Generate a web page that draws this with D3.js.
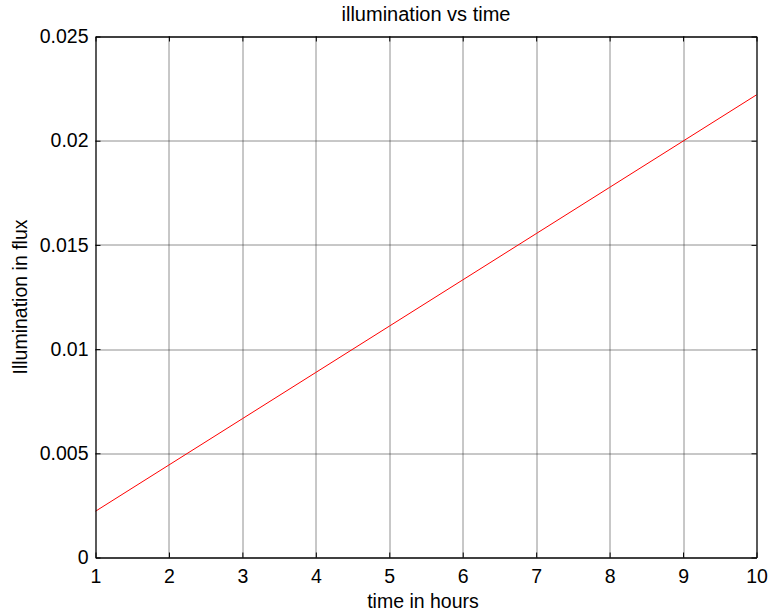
<!DOCTYPE html>
<meta charset="utf-8">
<script src="https://d3js.org/d3.v7.min.js"></script>
<style>
  body { margin: 0; background: #fff; }
  svg text { font-family: "Liberation Sans", Arial, sans-serif; fill: #000; }
</style>
<div id="chart"></div>
<script>
  // data
  var hours = [1, 2, 3, 4, 5, 6, 7, 8, 9, 10];
  var illumination = [0.00222, 0.00444, 0.00666, 0.00888, 0.0111, 0.01332, 0.01554, 0.01776, 0.01998, 0.0222];
  var xTicks = [1, 2, 3, 4, 5, 6, 7, 8, 9, 10];
  var yTicks = [0, 0.005, 0.01, 0.015, 0.02, 0.025];
  var yTickLabels = ["0", "0.005", "0.01", "0.015", "0.02", "0.025"];

  var W = 771, H = 615;
  var margin = { top: 36.5, right: 14.5, bottom: 57.5, left: 95.5 },
    width = W - margin.left - margin.right,
    height = H - margin.top - margin.bottom;
  var fontSize = "19.5px";

  var svg = d3.select("#chart").append("svg")
    .attr("width", W)
    .attr("height", H);

  var g = svg.append("g")
    .attr("transform", "translate(" + margin.left + "," + margin.top + ")");

  var x = d3.scaleLinear().domain([1, 10]).range([0, width]);
  var y = d3.scaleLinear().domain([0, 0.025]).range([height, 0]);

  // dotted grid
  g.append("g").selectAll("line")
    .data(xTicks.slice(1, -1))
    .enter().append("line")
    .attr("x1", d => Math.round(x(d)) + 0.5).attr("x2", d => Math.round(x(d)) + 0.5)
    .attr("y1", 0).attr("y2", height)
    .style("stroke", "#222").style("stroke-dasharray", "1,1");

  g.append("g").selectAll("line")
    .data(yTicks.slice(1, -1))
    .enter().append("line")
    .attr("y1", d => Math.round(y(d)) + 0.5).attr("y2", d => Math.round(y(d)) + 0.5)
    .attr("x1", 0).attr("x2", width)
    .style("stroke", "#222").style("stroke-dasharray", "1,1");

  // the line
  var line = d3.line()
    .x(function (d, i) { return x(hours[i]); })
    .y(function (d) { return y(d); });

  g.append("path")
    .datum(illumination)
    .attr("d", line)
    .style("fill", "none")
    .style("stroke", "#ff0000")
    .style("stroke-width", 1);

  // axes, MATLAB style: ticks point inward, box on all sides
  var tick = 5;
  g.append("g")
    .attr("transform", "translate(0," + height + ")")
    .call(d3.axisBottom(x).tickValues(xTicks).tickSizeInner(-tick).tickSizeOuter(0).tickPadding(12))
    .call(a => a.selectAll("text").style("font-size", fontSize));

  g.append("g")
    .call(d3.axisTop(x).tickValues(xTicks).tickSizeInner(-tick).tickSizeOuter(0).tickFormat(""));

  g.append("g")
    .call(d3.axisLeft(y).tickValues(yTicks).tickSizeInner(-tick).tickSizeOuter(0).tickPadding(7)
      .tickFormat(function (d, i) { return yTickLabels[i]; }))
    .call(a => a.selectAll("text").style("font-size", fontSize));

  g.append("g")
    .attr("transform", "translate(" + width + ",0)")
    .call(d3.axisRight(y).tickValues(yTicks).tickSizeInner(-tick).tickSizeOuter(0).tickFormat(""));

  g.selectAll(".domain").style("stroke", "#000").style("stroke-width", 1.3);
  g.selectAll(".tick line").style("stroke", "#000");

  // titles
  svg.append("text")
    .attr("x", margin.left + width / 2)
    .attr("y", 21)
    .attr("text-anchor", "middle")
    .style("font-size", "20px")
    .text("illumination vs time");

  svg.append("text")
    .attr("x", margin.left + width / 2 - 3)
    .attr("y", 608)
    .attr("text-anchor", "middle")
    .style("font-size", fontSize)
    .text("time in hours");

  svg.append("text")
    .attr("transform", "translate(27," + (margin.top + height / 2) + ") rotate(-90)")
    .attr("text-anchor", "middle")
    .style("font-size", fontSize)
    .text("Illumination in flux");
</script>
